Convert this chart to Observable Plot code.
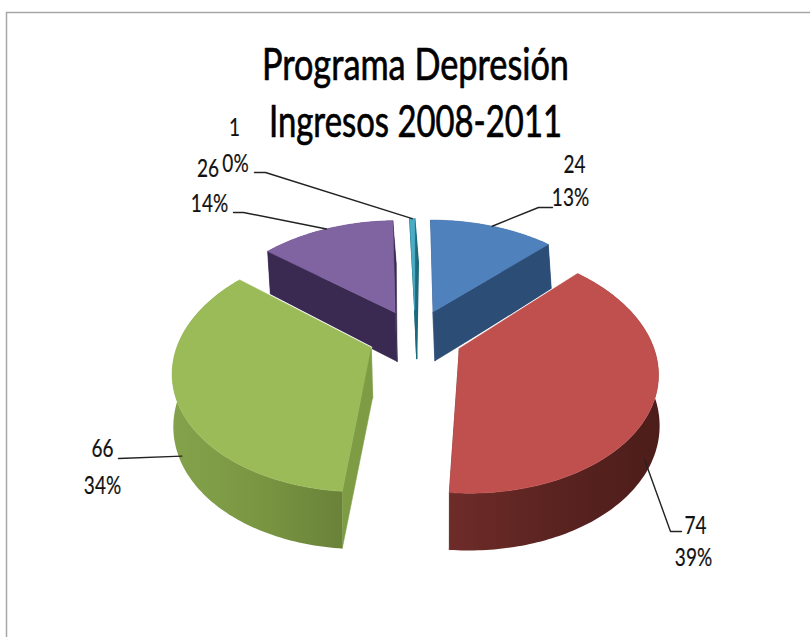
<!DOCTYPE html>
<html lang="es">
<head>
<meta charset="utf-8">
<title>Programa Depresión</title>
<script src="https://cdn.jsdelivr.net/npm/d3@7"></script>
<script src="https://cdn.jsdelivr.net/npm/@observablehq/plot@0.6"></script>
<style>
  html, body { margin: 0; background: #fff; }
  svg { display: block; }
</style>
</head>
<body>
<script>
// Ingresos por categoría, en el orden de las agujas del reloj desde las 12
const values = [24, 74, 66, 26, 1];
const percents = ["13%", "39%", "34%", "14%", "0%"];
const titleLines = ["Programa Depresión", "Ingresos 2008-2011"];

// Colores de cada porción: cara superior, corte lateral, borde curvo
const topColors = ["#4f81bd", "#c0504d", "#9bbb59", "#8064a2", "#4bacc6"];
const cutColors = ["#2c4d75", "#6b2a28", "#7d9c44", "#3a2a52", "#1d6a7d"];
const rimStops = [
  ["#2c4d75", "#2c4d75"],
  ["#6e2c29", "#5a2320", "#4c1d1a"],
  ["#84a24b", "#7a9642", "#6a8239"],
  ["#3a2a52", "#3a2a52"],
  ["#1d6a7d", "#1d6a7d"]
];

// Cámara de la tarta en perspectiva
const centerX = 415, horizon = -334, centerY = 336;
const radius = 198, radiusXScale = 0.965, explode = 47.6, perspective = 0.000869;
const depth = 50, depthPower = 0.65, lean = 9;

const width = 810, height = 637;
const slices = d3.pie().sort(null)(values);

// Proyecta un punto de la porción: r y ang sobre el plano, frac = altura bajada (0 arriba, 1 abajo)
function project(s, r, ang, frac = 0) {
  const mid = (s.startAngle + s.endAngle) / 2;
  const X = explode * Math.sin(mid) + r * radiusXScale * Math.sin(ang);
  const B = explode * Math.cos(mid) + r * Math.cos(ang);
  const w = 1 + B * perspective;
  return {
    x: centerX + X / w + frac * lean * (w - 0.82),
    y: horizon + (centerY - horizon) / w + frac * depth / Math.pow(w, depthPower)
  };
}

function arcPoints(s, frac) {
  const steps = Math.max(2, Math.ceil((s.endAngle - s.startAngle) * 180 / Math.PI));
  return d3.range(steps + 1).map(i =>
    project(s, radius, s.startAngle + (s.endAngle - s.startAngle) * i / steps, frac));
}

const cutFace = (s, ang) => [
  project(s, 0, ang, 0), project(s, radius, ang, 0),
  project(s, radius, ang, 1), project(s, 0, ang, 1)
];

// Polígono relleno como línea cerrada
const face = (points, fill, strokeWidth = 0.6) =>
  Plot.line(points, {x: "x", y: "y", fill, stroke: fill, strokeWidth, curve: "linear-closed"});

// Se pinta de atrás hacia delante
const paintOrder = [4, 3, 0, 2, 1];
const pieMarks = paintOrder.flatMap(i => {
  const s = slices[i];
  const marks = [
    face(cutFace(s, s.startAngle), cutColors[i], i === 4 ? 1.2 : 0.6),
    face(cutFace(s, s.endAngle), cutColors[i], i === 4 ? 1.2 : 0.6),
    face([...arcPoints(s, 0), ...arcPoints(s, 1).reverse()], `url(#rim${i})`, 0)
  ];
  // Fino halo blanco donde una porción grande tapa el lateral de la vecina
  if (s.value > 50) {
    const backAngle = Math.cos(s.startAngle) > 0 ? s.startAngle : s.endAngle;
    marks.push(Plot.line([project(s, 0, backAngle), project(s, radius, backAngle)],
      {x: "x", y: "y", stroke: "white", strokeWidth: 2.5}));
  }
  marks.push(face([project(s, 0, s.startAngle), ...arcPoints(s, 0), project(s, 0, s.endAngle)], topColors[i]));
  return marks;
});

// Líneas guía: codo junto a la etiqueta y ancla en el borde de la porción
const midAngle = s => (s.startAngle + s.endAngle) / 2;
const deg = a => a * Math.PI / 180;
const leaders = [
  {slice: 0, elbow: [[552, 207], [538, 207]], angle: midAngle(slices[0]), frac: 0},
  {slice: 1, elbow: [[681, 531], [670, 531]], angle: deg(123), frac: 0.74},
  {slice: 2, elbow: [[118, 458]], angle: deg(241), frac: 0.85},
  {slice: 3, elbow: [[233, 212], [243, 212]], angle: midAngle(slices[3]), frac: 0},
  {slice: 4, elbow: [[254, 172], [265, 172]], angle: midAngle(slices[4]), frac: 0}
];
const leaderMarks = leaders.map(l => {
  const end = project(slices[l.slice], radius, l.angle, l.frac);
  return Plot.line([...l.elbow.map(([x, y]) => ({x, y})), end],
    {x: "x", y: "y", stroke: "#222", strokeWidth: 1.4});
});

// Etiquetas: valor y porcentaje de cada porción
const valuePlaces = [[574, 164], [695, 525], [102, 448], [207.5, 168], [234, 127]];
const percentPlaces = [[570, 197], [693, 557], [102, 485], [209, 203], [235, 163]];
const labels = [
  ...values.map((v, i) => ({x: valuePlaces[i][0], y: valuePlaces[i][1], text: String(v)})),
  ...percents.map((p, i) => ({x: percentPlaces[i][0], y: percentPlaces[i][1], text: p}))
];

const titleData = titleLines.map((text, i) => ({text, x: 415, y: [65, 122][i]}));
const fontFamily = "Lato, 'Liberation Sans', sans-serif";
const labelNarrowing = 0.76;
const titleWidths = [307, 293];

const chart = Plot.plot({
  width, height,
  margin: 0,
  style: {background: "white"},
  x: {domain: [0, width], range: [0, width], axis: null},
  y: {domain: [0, height], range: [0, height], axis: null},
  marks: [
    Plot.ruleY([12], {x1: 6, x2: width, stroke: "#a6a6a6", strokeWidth: 1.5}),
    Plot.ruleX([6], {y1: 12, y2: height, stroke: "#a6a6a6", strokeWidth: 1.5}),
    ...pieMarks,
    ...leaderMarks,
    Plot.text(labels, {x: "x", y: "y", text: "text", fontSize: 25, fontFamily, fill: "#111", stroke: "#111", strokeWidth: 0.2, className: "etiqueta"}),
    Plot.text(titleData, {x: "x", y: "y", text: "text", fontSize: 44, fontFamily, fill: "#000", stroke: "#000", strokeWidth: 0.7, className: "titulo"})
  ]
});

// Degradados horizontales de los bordes curvos
const defs = d3.select(chart).append("defs");
rimStops.forEach((stops, i) => {
  const g = defs.append("linearGradient").attr("id", `rim${i}`);
  stops.forEach((c, j) => g.append("stop")
    .attr("offset", j / (stops.length - 1))
    .attr("stop-color", c));
});

document.body.append(chart);

// Tipografía estrecha: comprime el ancho de los textos ya medidos
d3.select(chart).selectAll(".etiqueta text").each(function () {
  this.setAttribute("textLength", this.getComputedTextLength() * labelNarrowing);
  this.setAttribute("lengthAdjust", "spacingAndGlyphs");
});
d3.select(chart).selectAll(".titulo text").each(function (_, i) {
  this.setAttribute("textLength", titleWidths[i]);
  this.setAttribute("lengthAdjust", "spacingAndGlyphs");
});
</script>
</body>
</html>
